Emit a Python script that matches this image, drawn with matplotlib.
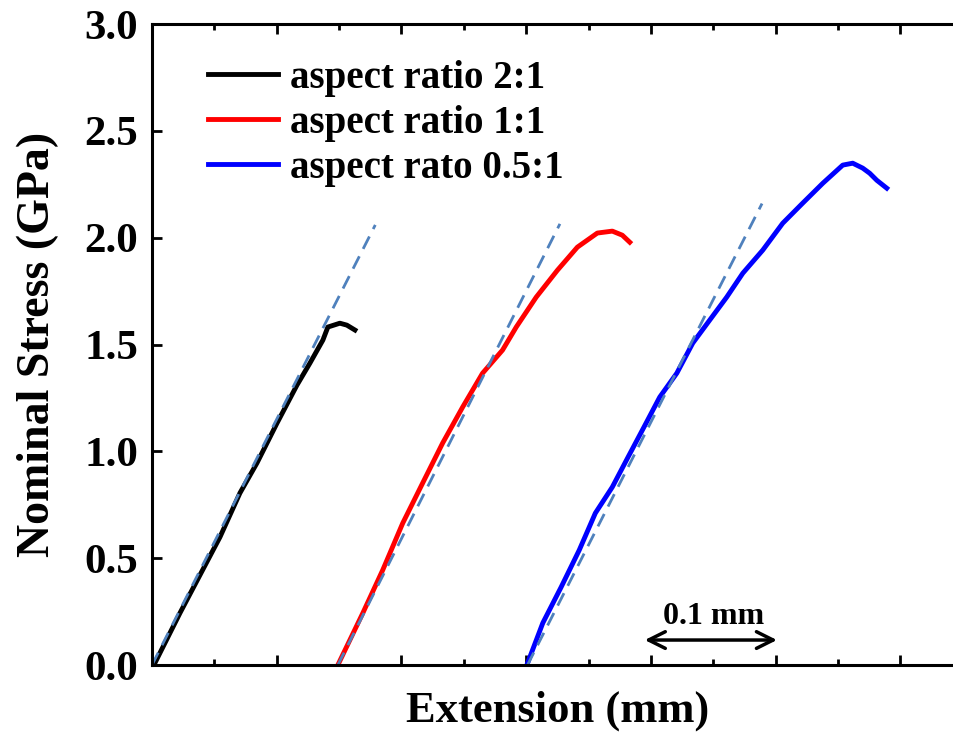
import matplotlib.pyplot as plt
from matplotlib.ticker import MultipleLocator

plt.rcParams['font.family'] = ['Liberation Serif', 'DejaVu Serif']
plt.rcParams['font.weight'] = 'bold'

# stress-extension curves (extension in mm, stress in GPa)
ext_21 = [0.0, 0.0024, 0.0224, 0.0545, 0.0705, 0.0841, 0.1002, 0.1162, 0.1266,
          0.137, 0.141, 0.1506, 0.1562, 0.1627]
str_21 = [0.0, 0.01, 0.243, 0.599, 0.805, 0.945, 1.132, 1.310, 1.413,
          1.521, 1.582, 1.600, 1.591, 1.568]

ext_11 = [0.149, 0.169, 0.185, 0.201, 0.217, 0.233, 0.249, 0.265, 0.281, 0.292,
          0.308, 0.325, 0.341, 0.357, 0.369, 0.377, 0.383]
str_11 = [0.0, 0.243, 0.445, 0.664, 0.852, 1.039, 1.207, 1.366, 1.474, 1.582,
          1.722, 1.848, 1.956, 2.022, 2.031, 2.012, 1.979]

ext_05 = [0.3005, 0.3133, 0.328, 0.3425, 0.3554, 0.369, 0.3816, 0.3944, 0.407,
          0.4207, 0.4335, 0.447, 0.4607, 0.4736, 0.4896, 0.5056, 0.5216, 0.5377,
          0.5537, 0.5617, 0.5697, 0.5753, 0.581, 0.589]
str_05 = [0.0, 0.197, 0.365, 0.538, 0.711, 0.833, 0.973, 1.114, 1.254,
          1.366, 1.507, 1.614, 1.722, 1.834, 1.942, 2.068, 2.162, 2.255,
          2.340, 2.349, 2.326, 2.302, 2.269, 2.232]

# linear fits (dashed), start and end points
fit_21_x = [0.0, 0.179]
fit_21_y = [0.0, 2.06]
fit_11_x = [0.149, 0.327]
fit_11_y = [0.0, 2.065]
fit_05_x = [0.301, 0.489]
fit_05_y = [0.0, 2.16]

labels = ['aspect ratio 2:1', 'aspect ratio 1:1', 'aspect rato 0.5:1']

fig = plt.figure(figsize=(9.54, 7.35), dpi=100)
ax = fig.add_axes([0.1593, 0.0952, 0.850, 0.872])

ax.plot(ext_21, str_21, color='black', lw=3.5, label=labels[0])
ax.plot(ext_11, str_11, color='red', lw=3.5, label=labels[1])
ax.plot(ext_05, str_05, color='blue', lw=3.5, label=labels[2])

fit_col = '#4f81bd'
for fx, fy in [(fit_21_x, fit_21_y), (fit_11_x, fit_11_y), (fit_05_x, fit_05_y)]:
    ax.plot(fx, fy, color=fit_col, lw=2, ls=(0, (5, 3)))

ax.set_xlim(0, 0.65)
ax.set_ylim(0, 3.0)
ax.xaxis.set_major_locator(MultipleLocator(0.1))
ax.xaxis.set_minor_locator(MultipleLocator(0.05))
ax.yaxis.set_major_locator(MultipleLocator(0.5))
ax.set_xticklabels([])
ax.yaxis.set_major_formatter(plt.FormatStrFormatter('%.1f'))
ax.tick_params(axis='both', which='major', direction='in', length=7, width=2,
               top=True, right=True, labelsize=31, pad=10)
ax.tick_params(axis='both', which='minor', direction='in', length=4, width=2,
               top=True, right=True)
for s in ax.spines.values():
    s.set_linewidth(2.2)

ax.set_xlabel('Extension (mm)', fontsize=32, fontweight='bold', labelpad=8)
ax.set_ylabel('Nominal Stress (GPa)', fontsize=33, fontweight='bold', labelpad=18)

ax.legend(loc='upper left', bbox_to_anchor=(0.069, 0.944), frameon=False,
          fontsize=28, handlelength=1.8, handletextpad=0.3, labelspacing=0.2,
          borderpad=0, borderaxespad=0)

# scale bar
ax.annotate('', xy=(0.395, 0.117), xytext=(0.501, 0.117),
            arrowprops=dict(arrowstyle='<->', color='black', lw=2.5,
                            mutation_scale=30, shrinkA=0, shrinkB=0))
ax.text(0.45, 0.16, '0.1 mm', fontsize=23, fontweight='bold', ha='center', va='bottom')

fig.savefig('out.png', dpi=100)
